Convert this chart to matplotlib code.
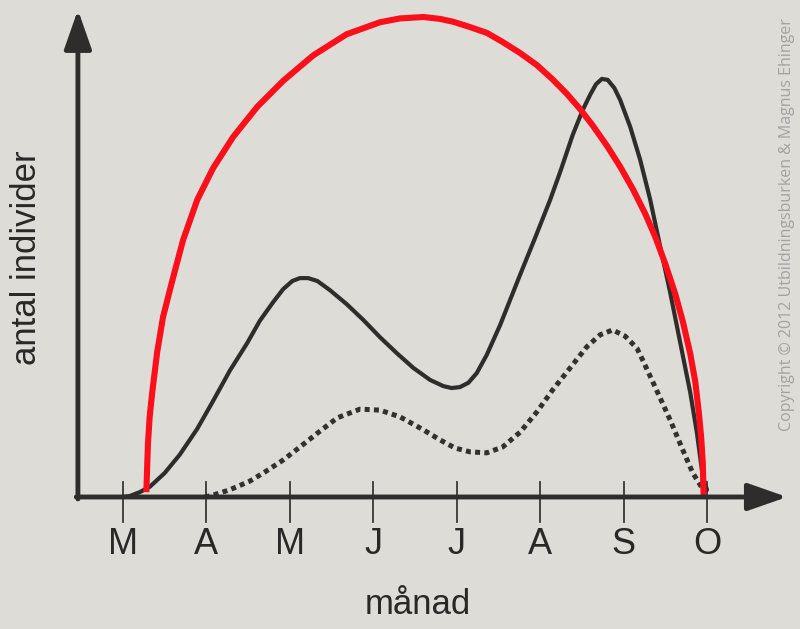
import matplotlib.pyplot as plt

# months on x axis (0 = M ... 7 = O), values in arbitrary units
manader = ['M', 'A', 'M', 'J', 'J', 'A', 'S', 'O']

solid_x = [0.00, 0.08, 0.20, 0.32, 0.50, 0.68, 0.89, 1.08, 1.28, 1.49, 1.64, 1.80, 1.92, 2.03, 2.12,
           2.22, 2.33, 2.48, 2.68, 2.88, 3.08, 3.28, 3.48, 3.68, 3.84, 3.94, 4.04, 4.14, 4.24, 4.36,
           4.52, 4.76, 4.94, 5.12, 5.24, 5.39, 5.51, 5.60, 5.67, 5.74, 5.81, 5.89, 5.96, 6.08, 6.20,
           6.32, 6.44, 6.56, 6.68, 6.80, 6.88, 6.95, 7.00]
solid_y = [0.0, 0.2, 1.0, 2.1, 5.0, 8.8, 14.2, 20.0, 26.3, 32.1, 36.7, 40.6, 43.3, 45.0, 45.6,
           45.6, 45.0, 43.1, 40.2, 36.9, 33.3, 30.0, 26.9, 24.4, 23.1, 22.7, 22.9, 23.8, 25.8, 29.6,
           35.8, 46.3, 54.0, 61.9, 67.7, 75.4, 80.6, 83.8, 86.0, 87.1, 86.9, 85.2, 82.7, 77.1, 70.2,
           61.9, 52.1, 42.5, 32.1, 21.7, 13.3, 4.2, 1.5]

dot_x = [0.98, 1.08, 1.28, 1.52, 1.70, 1.92, 2.12, 2.33, 2.57, 2.84, 3.08, 3.32, 3.60, 3.80, 3.98,
         4.16, 4.36, 4.55, 4.76, 4.96, 5.15, 5.36, 5.56, 5.72, 5.87, 6.02, 6.16, 6.23, 6.35, 6.56,
         6.71, 6.83, 6.92, 6.98]
dot_y = [0.0, 0.4, 1.5, 3.3, 5.2, 7.7, 10.4, 13.3, 16.5, 18.3, 18.1, 16.7, 14.0, 11.9, 10.2,
         9.4, 9.2, 10.4, 13.5, 17.7, 22.3, 26.9, 31.3, 33.8, 34.8, 33.5, 31.0, 28.5, 24.0, 16.0,
         9.8, 5.0, 2.5, 0.8]

red_x = [0.28, 0.29, 0.30, 0.32, 0.35, 0.41, 0.48, 0.59, 0.72, 0.89, 1.08, 1.32, 1.61, 1.92, 2.28,
         2.68, 3.08, 3.32, 3.60, 3.80, 3.96, 4.16, 4.36, 4.55, 4.76, 4.96, 5.15, 5.32, 5.48, 5.63,
         5.80, 5.96, 6.11, 6.26, 6.38, 6.50, 6.62, 6.71, 6.80, 6.86, 6.90, 6.93, 6.95, 6.96]
red_y = [1.0, 6.3, 11.3, 16.7, 21.7, 30.2, 37.5, 45.0, 53.5, 61.9, 68.5, 75.0, 81.3, 86.7, 92.0,
         96.4, 98.9, 99.7, 100.0, 99.6, 99.0, 97.9, 96.7, 94.8, 92.5, 90.0, 87.0, 84.0, 80.8, 77.4,
         73.2, 68.8, 64.2, 59.0, 54.2, 48.6, 42.3, 36.6, 29.8, 24.0, 18.0, 12.5, 7.0, 0.0]

plt.rcParams['font.family'] = ['Liberation Sans', 'DejaVu Sans']
bg = '#dddcd6'
mork = '#2f2d2b'

fig = plt.figure(figsize=(8, 6.29), dpi=100, facecolor=bg)
ax = fig.add_axes([0, 0, 1, 1])
ax.set_facecolor(bg)
ax.set_xlim(-1.474, 8.115)
ax.set_ylim(-27.5, 103.54)
ax.axis('off')

# axlar med pilar
pil = dict(arrowstyle='-|>,head_length=1.2,head_width=0.42', lw=3.5, color=mork,
           mutation_scale=20, shrinkA=0, shrinkB=0)
ax.annotate('', xy=(-0.54, 101.5), xytext=(-0.54, -0.4), arrowprops=pil)
ax.annotate('', xy=(7.96, 0), xytext=(-0.56, 0), arrowprops=pil)

# streck och månader
for i, m in enumerate(manader):
    ax.plot([i, i], [3.1, -5.2], color='#3a3836', lw=1.3)
    ax.text(i, -10.0, m, ha='center', va='center', fontsize=26, color='#2a2826')

ax.plot(dot_x, dot_y, color='#333130', lw=3.6, linestyle=(0, (1, 0.85)), dash_capstyle='butt')
ax.plot(solid_x, solid_y, color=mork, lw=3.0, solid_capstyle='round', solid_joinstyle='round')
ax.plot(red_x, red_y, color='#fb0f1a', lw=4.4, solid_capstyle='butt', solid_joinstyle='round')

ax.text(-1.151, 49.8, 'antal individer', rotation=90, ha='center', va='center',
        fontsize=25, color='#2a2826')
ax.text(3.54, -22.5, 'månad', ha='center', va='center', fontsize=25, color='#2a2826')
ax.text(7.958, 56.7, 'Copyright © 2012 Utbildningsburken & Magnus Ehinger', rotation=90,
        ha='center', va='center', fontsize=11.5, color='#a3a29e', family=['Open Sans', 'DejaVu Sans'])

plt.savefig('out.png', dpi=100, facecolor=bg)
